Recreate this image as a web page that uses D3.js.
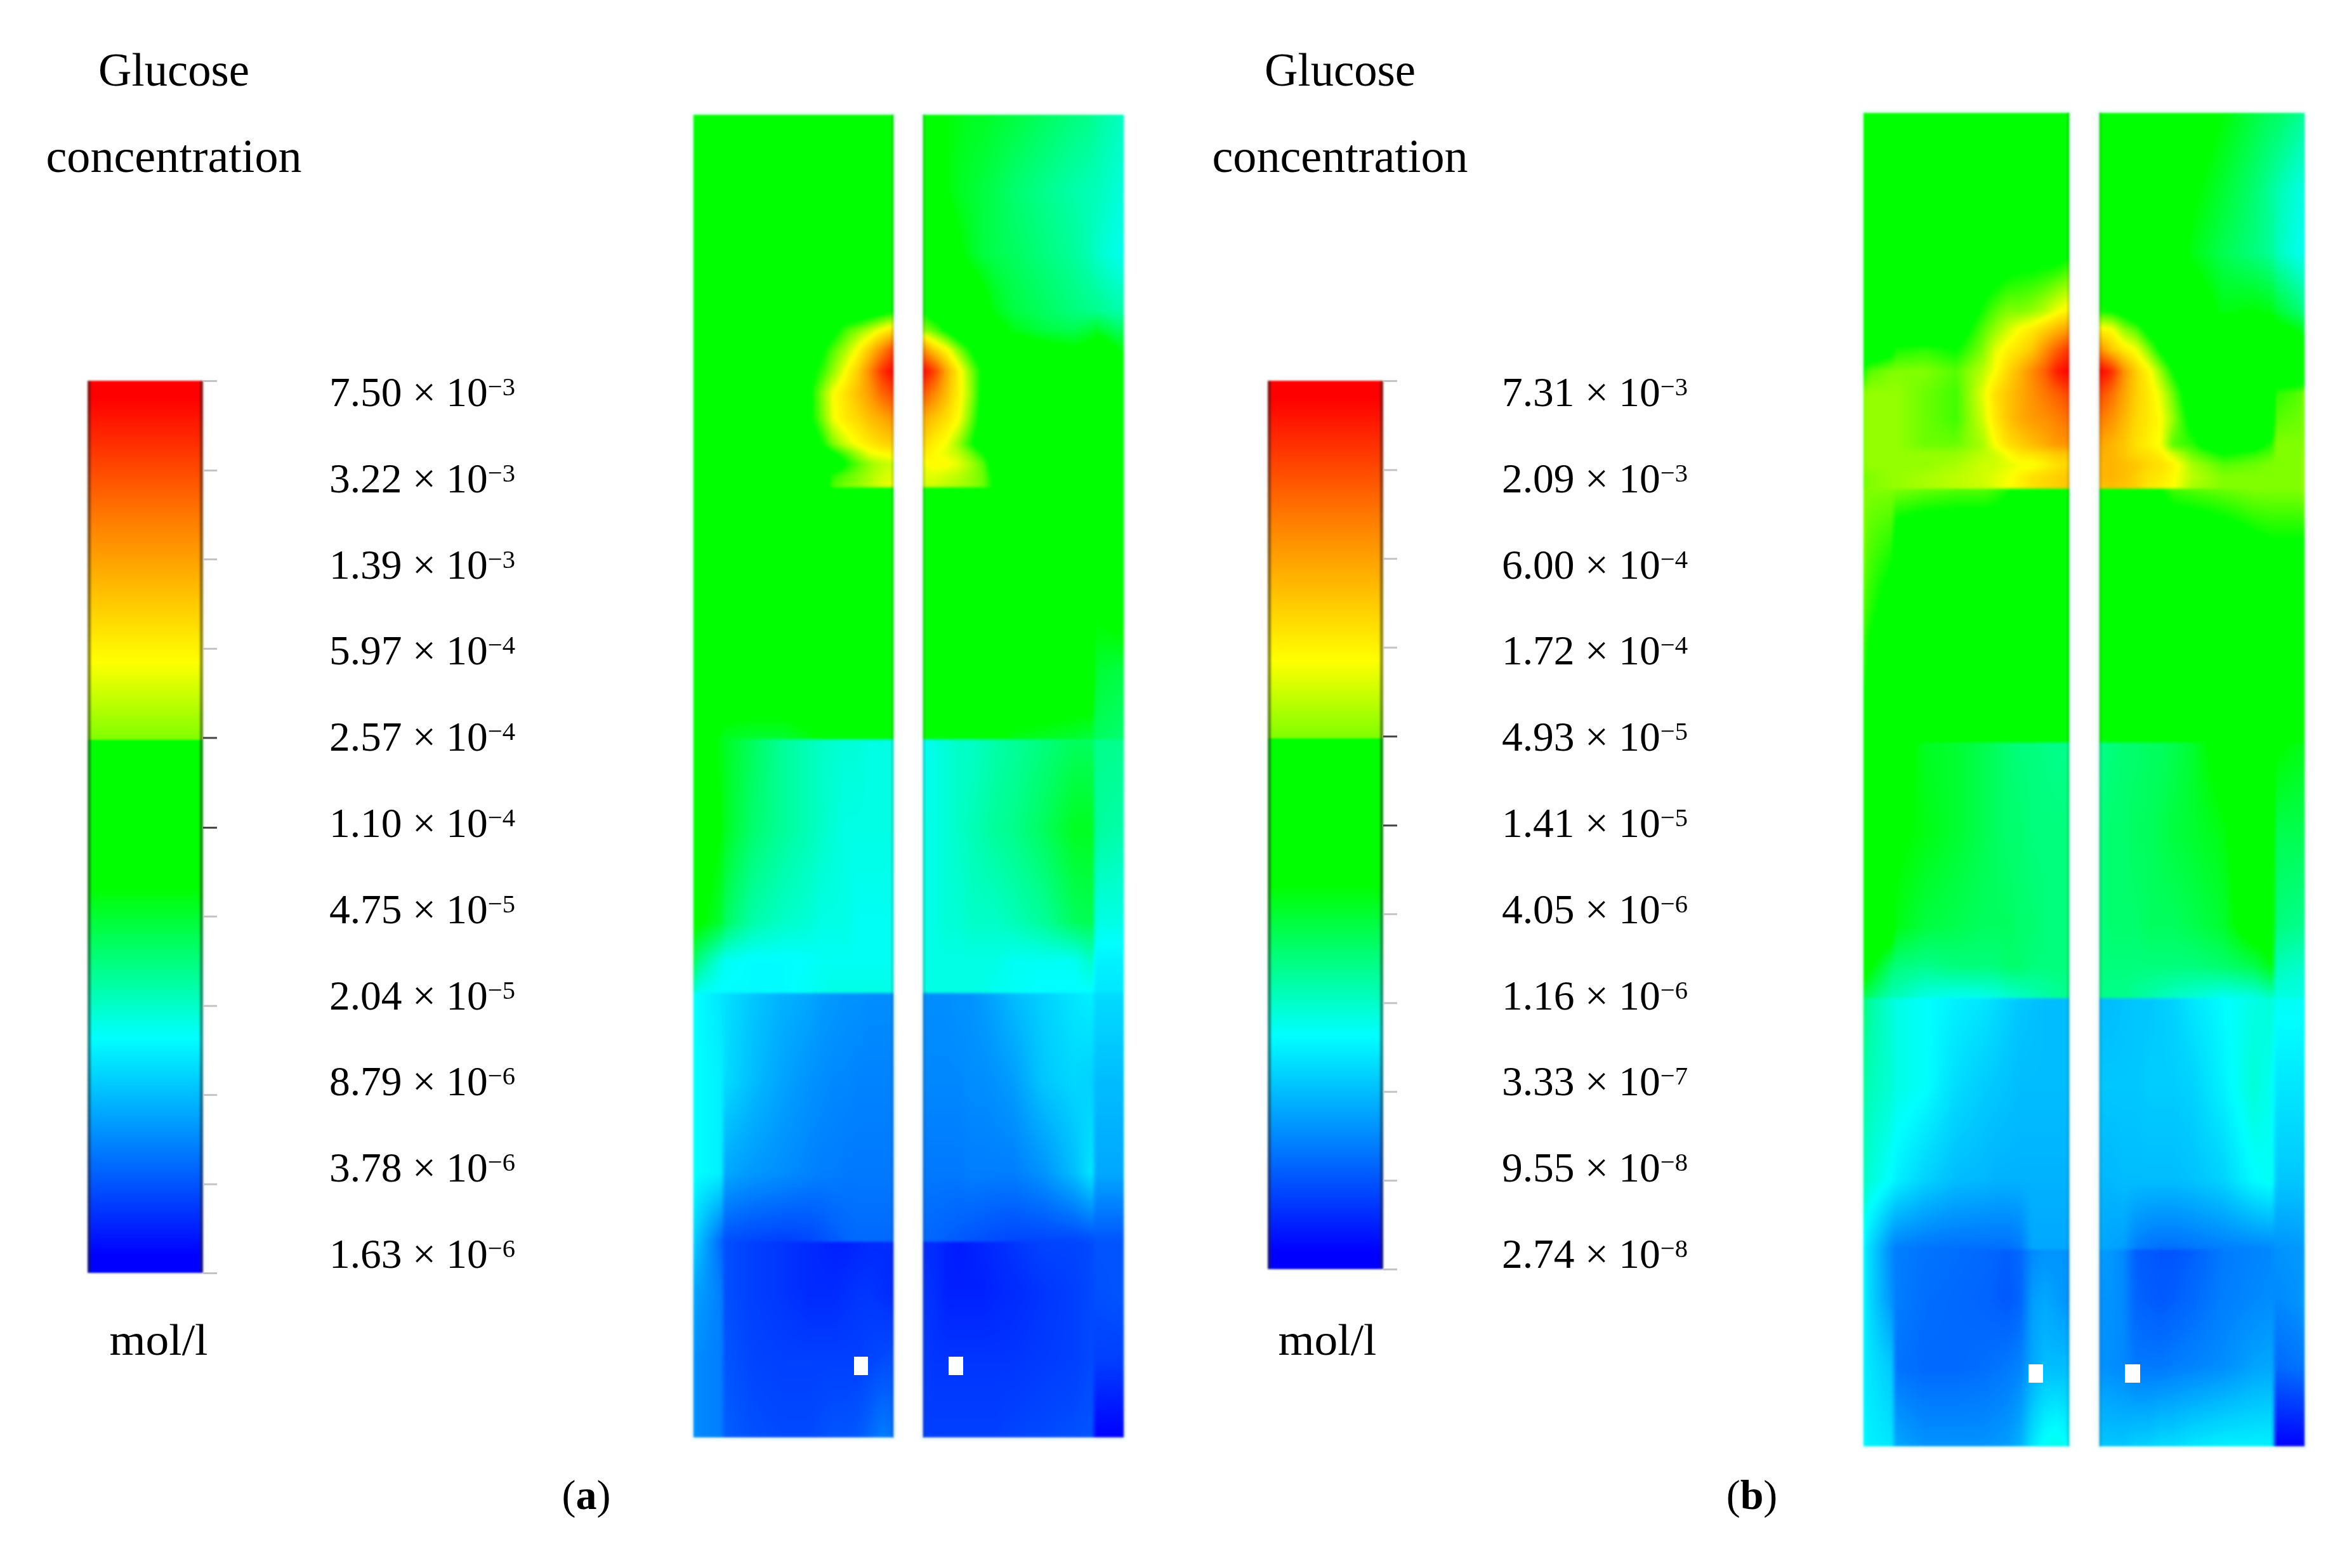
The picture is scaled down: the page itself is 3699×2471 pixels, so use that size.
<!DOCTYPE html>
<html><head><meta charset="utf-8">
<script src="https://cdnjs.cloudflare.com/ajax/libs/d3/7.8.5/d3.min.js"></script>
<style>
html,body{margin:0;padding:0;background:#fff}
#stage{position:relative;width:3699px;height:2471px;overflow:hidden;background:#fff}
canvas{position:absolute;filter:blur(2px)}
svg{position:absolute;left:0;top:0}
text{font-family:"Liberation Serif",serif;fill:#000}
</style></head><body><div id="stage"></div>
<script>
// ---------- legend data ----------
const mantissaA = [7.50,3.22,1.39,5.97,2.57,1.10,4.75,2.04,8.79,3.78,1.63];
const exponentA = [-3,-3,-3,-4,-4,-4,-5,-5,-6,-6,-6];
const mantissaB = [7.31,2.09,6.00,1.72,4.93,1.41,4.05,1.16,3.33,9.55,2.74];
const exponentB = [-3,-3,-4,-4,-5,-5,-6,-6,-7,-8,-8];
const darkTicks = [4,5];
const panelTags = ["a","b"];
const colorStops = ["#0000ff","#0000ff","#00ffff","#00ff00","#00ff00","#80ff00","#ffff00","#ff8000","#ff0000","#ff0000"];
const fieldDomain = [0,2,26.3,43.2,56,62,68.5,83,98,100];
const barDomain = [0,2,26.3,43.2,59.7,59.8,68.5,84,98,100];

const depthPct = [0,5.75,10.5,14.9,16.3,17.8,19.4,21.1,23,24.9,25.6,26.4,27.3,28.2,28.2,32,37,42,47.2,47.2,54,61,64,66.4,66.4,73,80,85.2,85.2,89,94,100];
const leftCols  = [0,.03,.14,.16,.30,.45,.58,.64,.70,.76,.82,.88,.94,1];
const rightCols = [0,.06,.12,.18,.24,.30,.36,.45,.60,.75,.84,.86,.97,1];

const fieldAL = [
[42,47,50,50,50,50,50,50,50,50,50,50,50,50],
[44,50,50,50,50,50,50,50,50,50,50,50,50,50],
[50,50,50,50,50,50,50,50,50,50,50,50,50,50],
[50,50,50,50,50,50,50,50,50,50,50,52,54,56],
[50,50,50,50,50,50,50,50,54,59,62,65,69,72],
[50,50,50,50,50,50,50,55,60,64,69,75,82,90],
[50,50,50,50,50,50,54,58,63,68.5,74,82,92,98],
[50,50,50,50,50,50,55,62,68.5,72,76,80,86,90],
[50,50,50,50,50,50,55,61,68,71,73,76,78,81],
[50,50,50,50,50,50,50,56,62,66,69,71,73,74],
[50,50,50,50,50,50,50,52,56,60,64,68,69,70],
[50,50,50,50,50,50,50,50,50,56,60,63,65,66],
[50,50,50,50,50,50,50,52,58,60,62,64,66,67],
[50,50,50,50,50,50,52,50,60,62,63,65,67,68],
[50,50,50,50,50,50,50,50,50,50,50,50,50,50],
[50,50,50,50,50,50,50,50,50,50,50,50,50,50],
[50,50,50,50,50,50,50,50,50,50,50,50,50,50],
[50,50,50,50,50,50,50,50,50,50,50,50,50,50],
[50,50,42,41,40,40,42,44,48,50,50,50,50,50],
[47,46,42,41,37,33,31,30,29.5,29,29,28,28,28],
[47,47,43,41,36,33,31,30,29,28,28,28,28,28],
[44,44,40,37,32,30,29,28,28,28,27,27,27,27],
[38,34,28,27,26,26,26.5,27,27,27,27,27,27,27],
[30,27,26,26,26,26,27,27.5,28,28,28,28,28,28],
[27,26,24,23.5,21,19,18,17,16.5,16,16,15.5,15.5,15.5],
[27,26,25,23,20,17.5,16,15.5,15,15,14.5,14.5,14.5,14.5],
[27,26,25,18,16.5,15.5,14.5,14,14,13.5,13.5,13.5,13.5,13.5],
[22,20,12,9.5,8.5,8,8.5,9.5,10.5,11.5,12,12,12,12],
[22,20,12,9.5,8,7,6,5.5,5,5,5.5,6,6,6],
[18,17,14,9.5,8,7,6,6,6,6.5,7,7,6.5,6],
[16,15,14,10,8.5,8,8,8,8,8,8,8.5,9,9.5],
[16,15,14,11,9.5,9,9,9.5,10,10,10.5,12,14,13]];

const fieldAR = [
[44,44,43,42,41,41,40,39,37,35,34,33,31,30],
[48,45,43,41,40,39,38,36,34,32,31,31,29,29],
[50,50,47,44,41,39,38,37,35,33,31,30,27.5,28],
[56,52,50,50,50,46,42,39,37,35,34,34,32,33],
[63,60,55,50,50,50,46,42,39,38,40,41,37,38],
[82,74,69,62,56,50,50,48,46,44,46,50,43,42],
[98,90,78,70,62,55,50,50,50,50,50,50,50,48],
[88,82,76,70,63,54,50,50,50,50,50,50,50,50],
[78,75,72,68.5,61,53,50,50,50,50,50,50,50,50],
[73,70,68,63,57,51,50,50,50,50,50,50,50,50],
[71,69,67,65,61,56,50,50,50,50,50,50,50,50],
[68,69,69,67,64,60,51,50,50,50,50,50,50,50],
[67,67,66,65,63,61,54,50,50,50,50,50,50,50],
[66,66,65,64,63,61,55,50,50,50,50,50,50,50],
[50,50,50,50,50,50,50,50,50,50,50,50,50,50],
[50,50,50,50,50,50,50,50,50,50,50,50,50,50],
[50,50,50,50,50,50,50,50,50,50,50,44,46,48],
[50,50,50,50,50,50,50,50,50,50,50,40,39,39],
[50,50,50,50,50,48,45,42,41,40,39,37,36,36],
[27,28,29,30,30,31,32,33,35,37,37,34,34,34],
[28,28,29,30,31,32,33,34,37,41,41,33,32,32],
[28,28,29,29,30,30,30,31,33,37,38,28,28,28],
[28,28,28,28,28,28,28,27,27,27,30,25,25,25],
[28,28,28,28,28,28,27,27,26,26,26,24,24,24],
[15.5,15.5,15.5,16,16,17,18,20,22,24,25,23,23,23],
[15,15,15,15,15.5,15.5,16,17,21,22.5,22,20,20,20],
[13.5,13.5,13.5,13.5,14,14,14,14,16,20,24,18,18,18],
[12,11.5,11,10.5,10,9.5,9,8.5,8.5,8.5,9,10,10,10],
[6,6,5,4.5,5,5.5,6,7,8.5,8.5,9,10,10,10],
[7,6.5,5,5,5,5,5.5,6,7,8,9,9.5,10,10],
[7.5,7,7,7,7,7,7,7,7.5,8,9,8,8,8],
[8,8,8,8,8,8,8,8.5,9,9.5,10,2,2,2]];

const fieldBL = [
[44,50,50,50,50,50,50,50,50,50,50,50,50,50],
[46,50,50,50,50,50,50,50,50,50,50,50,50,50],
[50,50,50,50,50,50,50,50,52,53,53,53,53,55],
[50,50,50,50,50,50,57,60,62,62,63,65,68,70],
[50,50,50,50,50,52,60,63,66,69,71,74,77,80],
[50,50,54,57,58,56,62,67,70,72,75,81,87,92],
[56,60,62,62,62,60,65,68.5,73,77,82,87,95,98],
[62,63,63,63,61,59,67,72,75,78,81,84,87,90],
[62,63,63,63,61,59,66,71,75,78,80,81,83,85],
[62,63,63,63,61,61,64,68.5,72,74,76,78,80,81],
[62,63,63,63,63,63,65,66,68.5,71,72,73,75,75],
[62,63,63,63,63,64,66,66,67,68,68,70,72,73],
[61,62,63,63,64,65,66,67,68,70,72,73,74,75],
[61,62,63,63,64,65,66,67,68.5,70,72,73,74,75],
[62,62,62,62,61,60,60,59,57,50,50,50,50,50],
[62,60,58,52,50,50,50,50,50,50,50,50,50,50],
[60,58,53,50,50,50,50,50,50,50,50,50,50,50],
[58,54,50,50,50,50,50,50,50,50,50,50,50,50],
[50,50,50,50,50,49,48,46,45,44,44,44,44,44],
[50,50,50,47,41,40,38,37,36,35,35,34.5,34,34],
[50,50,50,44,42,40,38,37,36,36,35,35,35,35],
[50,50,48,42,39,38,37,37,37,36,36,35,35,35],
[48,44,36,35,34,35,35,35,36,36,35,35,35,35],
[38,36,31,31,28,27,27.5,28,29,30,31,32,33,34],
[36,33,29,28,26.5,25,24,23,22,21,20.5,20,20,20],
[33,31,29,28,26.5,23,21.5,21,20.5,20,20,20,20,20],
[31,29,26,25,22,20,19.5,19,19,19,19,19,19,19],
[26,23,15,14,13,12.5,12.5,12.5,12.5,13.5,18,18,18,18],
[26,23,15,14,13,12.5,12,11.5,11,12,15,16,16,16],
[26,23,16,14,12.5,12,11.5,11,10.5,11.5,17,18,17,16],
[25,24,21,13,12,12,12.5,13,13.5,14.5,18,20,20,20],
[26,25,24,18,16,16,16,16.5,17,19,24,27,28,26]];

const fieldBR = [
[50,50,50,50,50,50,50,47,43,39,37,37,34,33],
[50,50,50,50,50,50,50,44,40,36,33,32,28.5,29],
[52,50,50,50,50,50,50,42,38,35,33,31,27.5,28],
[57,56,54,50,50,50,50,48,42,43,42,40,36,34],
[70,69,63,60,54,50,50,50,50,50,48,46,42,40],
[82,75,71,68,62,55,50,50,50,50,50,50,48,46],
[98,93,81,74,69.5,63,56,50,50,50,50,50,50,50],
[90,85,79,74,71,67,61,51,50,50,50,58,60,62],
[84,81,77,73,71,68.5,63,54,50,50,50,60,61,62],
[79,77,75,72,70,68,60,58,50,53,58,62,62,62],
[78,77,75,73,72,70,66,61,56,58,60,62,62,63],
[77,77,76,75,73,72,70,64,60,61,62,62,62,63],
[77,77,76,74,72,71,69,65,62,62,62,62,62,63],
[75,76,75,74,71,70,68.5,64,62,62,62,62,62,63],
[50,50,50,50,50,56,59,60,61,62,62,62,62,63],
[50,50,50,50,50,50,50,50,52,55,56,56,56,56],
[50,50,50,50,50,50,50,50,50,50,50,50,50,50],
[50,50,50,50,50,50,50,50,50,50,50,50,50,50],
[50,50,50,50,50,49,48,47,49,50,50,50,48,47],
[34,35,36,36,37,37,38,40,46,50,50,44,42,42],
[35,36,36,37,37,38,39,40,42,49,50,38,38,38],
[35,36,36,36,37,37,37,38,40,47,48,35,34,34],
[35,35,35,35,35,35,35,35,36,38,42,31,30,30],
[34,34,34,33,32,31,30,29,27,28,30,28,28,28],
[20,20,20.5,21,21,21.5,22,24,26,28,29,27,27,27],
[21,21,21,21,21.5,21.5,21.5,22,25,29,27,24,24,24],
[19.5,19.5,20,20,20,20,20,20.5,22,26,27,21,21,21],
[18,17.5,17,14,13,12.5,12.5,13,14,14.5,15,16,16.5,17],
[17,16.5,15,11,10.5,10,10,11,13.5,14.5,15,16,16.5,17],
[16,16,15,11.5,11,10.5,11,12,14,15,15.5,15,16,17],
[16,15.5,15,13.5,13.5,13.5,14,14.5,15.5,17.5,18,12,13,13],
[21,21,21,22,22,23,23,24,25,25,25,2,2,2]];

// ---------- layout ----------
const W = 3699, H = 2471;
const panels = [
 {tag:0, mant:mantissaA, exp:exponentA, barX:[138,320], barY:[600,2006], labelX:519, labelY:[640,1998],
  headX:274, unitX:250, tagX:924, top:180, bottom:2266,
  halves:[{x0:1092,x1:1409,cols:leftCols,field:fieldAL},{x0:1454,x1:1772,cols:rightCols,field:fieldAR}],
  probes:[[1346,1368],[1495,1518]], probeY:[2138,2167]},
 {tag:1, mant:mantissaB, exp:exponentB, barX:[1998,2180], barY:[600,2000], labelX:2367, labelY:[640,1998],
  headX:2112, unitX:2092, tagX:2761, top:177, bottom:2280,
  halves:[{x0:2936,x1:3262,cols:leftCols,field:fieldBL},{x0:3308,x1:3633,cols:rightCols,field:fieldBR}],
  probes:[[3197,3220],[3349,3373]], probeY:[2150,2179]}
];

const stage = d3.select("#stage");
const fieldColor = d3.scaleLinear().domain(fieldDomain).range(colorStops).clamp(true);
const barColor = d3.scaleLinear().domain(barDomain).range(colorStops).clamp(true);
const lut = d3.range(0,1001).map(i => d3.rgb(fieldColor(i/10)));

// ---------- heat fields ----------
function drawHalf(h, top, bottom){
  const w = h.x1-h.x0, ht = bottom-top;
  const colOf = d3.scaleLinear().domain(h.cols).range(d3.range(h.cols.length)).clamp(true);
  const rowOf = d3.scaleLinear().domain(depthPct).range(d3.range(depthPct.length)).clamp(true);
  const xFrac = d3.scaleLinear().domain([0,w]).range([0,1]);
  const yDepth = d3.scaleLinear().domain([0,ht]).range([0,100]);
  const cv = stage.append("canvas").attr("width",w).attr("height",ht)
     .style("left",h.x0+"px").style("top",top+"px");
  const ctx = cv.node().getContext("2d");
  const img = ctx.createImageData(w,ht);
  const colIdx = d3.range(w).map(x => colOf(xFrac(x+.5)));
  for(let y=0;y<ht;y++){
    const rf = rowOf(yDepth(y+.5));
    const r0 = Math.min(Math.floor(rf),depthPct.length-2), tr = rf-r0;
    const a = h.field[r0], b = h.field[r0+1];
    for(let x=0;x<w;x++){
      const cf = colIdx[x];
      const c0 = Math.min(Math.floor(cf),h.cols.length-2), tc = cf-c0;
      const v = (a[c0]*(1-tc)+a[c0+1]*tc)*(1-tr)+(b[c0]*(1-tc)+b[c0+1]*tc)*tr;
      const col = lut[Math.round(v*10)];
      const o = (y*w+x)*4;
      img.data[o]=col.r; img.data[o+1]=col.g; img.data[o+2]=col.b; img.data[o+3]=255;
    }
  }
  ctx.putImageData(img,0,0);
}
panels.forEach(p => p.halves.forEach(h => drawHalf(h,p.top,p.bottom)));

// ---------- overlay ----------
const svg = stage.append("svg").attr("width",W).attr("height",H);
const defs = svg.append("defs");
defs.append("filter").attr("id","soft").attr("x","-20%").attr("width","140%")
  .attr("color-interpolation-filters","sRGB")
  .append("feGaussianBlur").attr("stdDeviation",1.8);

panels.forEach(p => {
  const g = svg.append("g");
  const gradId = "bar"+p.tag;
  const lg = defs.append("linearGradient").attr("id",gradId).attr("x1",0).attr("x2",0).attr("y1",1).attr("y2",0);
  barDomain.forEach(d => lg.append("stop").attr("offset",d/100).attr("stop-color",barColor(d)));

  const values = p.mant.map((m,i)=>m*Math.pow(10,p.exp[i]));
  const barScale = d3.scaleLog().domain([values[values.length-1],values[0]]).range([p.barY[1],p.barY[0]]);

  // colour bar
  const bar = g.append("g").attr("filter","url(#soft)");
  bar.append("rect").attr("x",p.barX[0]).attr("y",p.barY[0]).attr("width",p.barX[1]-p.barX[0])
    .attr("height",p.barY[1]-p.barY[0]).attr("fill",`url(#${gradId})`);
  bar.selectAll("rect.edge").data([p.barX[0],p.barX[1]-5]).join("rect").attr("class","edge")
    .attr("x",d=>d).attr("y",p.barY[0]).attr("width",5).attr("height",p.barY[1]-p.barY[0])
    .attr("fill","#222").attr("opacity",.5);

  // tick marks
  const axis = g.append("g").attr("transform",`translate(${p.barX[1]},0)`)
    .call(d3.axisRight(barScale).tickValues(values).tickSize(22).tickFormat(""));
  axis.select(".domain").remove();
  axis.selectAll(".tick line").attr("stroke",(d,i)=>darkTicks.includes(i)?"#444":"#c4c4c4")
    .attr("stroke-width",3);

  // tick labels
  const labelY = d3.scalePoint().domain(d3.range(values.length)).range(p.labelY);
  const lab = g.selectAll("text.lab").data(p.mant).join("text").attr("class","lab")
    .attr("x",p.labelX).attr("y",(d,i)=>labelY(i)).attr("font-size",66)
    .attr("textLength",293).attr("lengthAdjust","spacingAndGlyphs");
  lab.append("tspan").text(d=>d.toFixed(2)+" × 10");
  lab.append("tspan").attr("dy",-17).attr("font-size",41).text((d,i)=>"\u2212"+Math.abs(p.exp[i]));

  // headings
  g.append("text").attr("x",p.headX).attr("y",135).attr("text-anchor","middle")
    .attr("font-size",73).attr("textLength",238).attr("lengthAdjust","spacingAndGlyphs").text("Glucose");
  g.append("text").attr("x",p.headX).attr("y",271).attr("text-anchor","middle")
    .attr("font-size",73).attr("textLength",403).attr("lengthAdjust","spacingAndGlyphs").text("concentration");
  g.append("text").attr("x",p.unitX).attr("y",2135).attr("text-anchor","middle")
    .attr("font-size",70).attr("textLength",155).attr("lengthAdjust","spacingAndGlyphs").text("mol/l");

  // panel tag
  const t = g.append("text").attr("x",p.tagX).attr("y",2378).attr("text-anchor","middle").attr("font-size",66);
  t.append("tspan").text("(");
  t.append("tspan").attr("font-weight","bold").text(panelTags[p.tag]);
  t.append("tspan").text(")");

  // edge fringes of the two halves
  const fringe = g.append("g").attr("filter","url(#soft)");
  fringe.selectAll("rect.outer").data(p.halves).join("rect").attr("class","outer")
    .attr("x",h=>h.x0-2).attr("y",p.top-2).attr("width",h=>h.x1-h.x0+4).attr("height",p.bottom-p.top+4)
    .attr("fill","none").attr("stroke","#f2ffff").attr("stroke-width",3);
  fringe.selectAll("rect.inner").data([p.halves[0].x1-4,p.halves[1].x0]).join("rect").attr("class","inner")
    .attr("x",d=>d).attr("width",4).attr("y",p.top).attr("height",p.bottom-p.top)
    .attr("fill","#000").attr("opacity",.14);

  // probes
  g.selectAll("rect.probe").data(p.probes).join("rect").attr("class","probe")
    .attr("x",d=>d[0]).attr("width",d=>d[1]-d[0]).attr("y",p.probeY[0]).attr("height",p.probeY[1]-p.probeY[0])
    .attr("fill","#fff");
});
</script></body></html>
